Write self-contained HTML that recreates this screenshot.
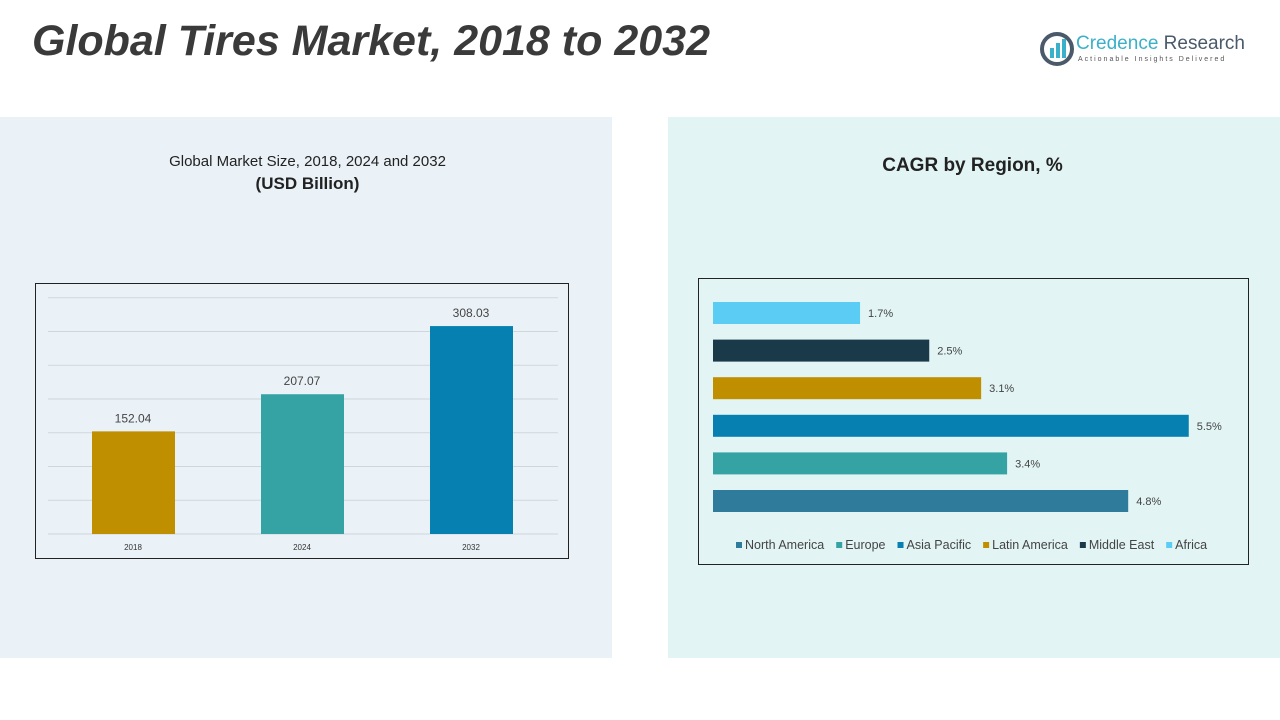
<!DOCTYPE html>
<html><head><meta charset="utf-8"><style>
body{margin:0;width:1280px;height:720px;background:#fff;position:relative;overflow:hidden;font-family:"Liberation Sans",sans-serif}
.abs{position:absolute}
</style></head><body>
<div class="abs" style="left:32px;top:17px;font-size:43px;font-weight:bold;font-style:italic;color:#3a3a3a">Global Tires Market, 2018 to 2032</div>
<div class="abs" style="left:1040px;top:30px;width:210px;height:40px">
 <svg width="34" height="34" style="position:absolute;left:0;top:2px"><circle cx="17" cy="17" r="15" fill="none" stroke="#4a5a6a" stroke-width="4"/><rect x="10" y="16" width="4" height="10" fill="#3bb0c9"/><rect x="16" y="11" width="4" height="15" fill="#3bb0c9"/><rect x="22" y="7" width="4" height="19" fill="#3bb0c9"/></svg>
 <div class="abs" style="left:36px;top:3px;font-size:19px;color:#3bb0c9;white-space:nowrap">Credence <span style="color:#4a5a6a">Research</span></div>
 <div class="abs" style="left:38px;top:26px;font-size:7px;letter-spacing:2px;color:#555;white-space:nowrap">Actionable Insights Delivered</div>
</div>
<div class="abs" style="left:0;top:117px;width:612px;height:541px;background:#eaf2f8"></div>
<div class="abs" style="left:668px;top:117px;width:612px;height:541px;background:#e2f4f4"></div>
<div class="abs" style="left:100px;top:153px;width:415px;text-align:center;font-size:15px;color:#222">Global Market Size, 2018, 2024 and 2032<br><b style="font-size:17px;line-height:28px">(USD Billion)</b></div>
<div class="abs" style="left:820px;top:155px;width:305px;text-align:center;font-size:19px;font-weight:bold;color:#222">CAGR by Region, %</div>
<div class="abs" style="left:35px;top:283px;width:534px;height:276px;border:1px solid #222;box-sizing:border-box"></div>
<div class="abs" style="left:698px;top:278px;width:551px;height:287px;border:1px solid #222;box-sizing:border-box"></div>
<svg class="abs" style="left:0;top:0" width="1280" height="720" id="svg"></svg>
<script>
const years=["2018","2024","2032"];
const sizes=[152.04,207.07,308.03];
const barColors=["#bf8f00","#35a3a3","#0580b0"];
const gridTicks=[0,50,100,150,200,250,300,350];
const regions=["North America","Europe","Asia Pacific","Latin America","Middle East","Africa"];
const cagr=[4.8,3.4,5.5,3.1,2.5,1.7];
const cagrLabels=["4.8%","3.4%","5.5%","3.1%","2.5%","1.7%"];
const regColors=["#2e7b9b","#35a3a3","#0580b0","#bf8f00","#1a3a4a","#5bcdf5"];
const NS="http://www.w3.org/2000/svg",svg=document.getElementById('svg');
function mk(t,a,txt){const e=document.createElementNS(NS,t);for(const k in a)e.setAttribute(k,a[k]);if(txt!=null)e.textContent=txt;svg.appendChild(e);return e;}
const y=v=>534-v*0.675, xc=i=>133+i*169;
gridTicks.forEach(t=>{const g=mk('line',{x1:48,x2:558,y1:y(t),y2:y(t),stroke:'#cfd6dc'});

});
years.forEach((yr,i)=>{
const r=mk('rect',{x:xc(i)-41,y:y(sizes[i]),width:83,height:534-y(sizes[i]),fill:barColors[i]});


const v=mk('text',{x:xc(i),y:y(sizes[i])-9,'text-anchor':'middle','font-size':12,fill:'#444'},sizes[i].toFixed(2));


const l=mk('text',{x:xc(i),y:550,'text-anchor':'middle','font-size':8,fill:'#333'},yr);


});
const bx=v=>713+v*86.5, by=i=>501-i*37.6;
regions.forEach((r,i)=>{
const b=mk('rect',{x:713,y:by(i)-11,width:bx(cagr[i])-713,height:22,fill:regColors[i]});


const t=mk('text',{x:bx(cagr[i])+8,y:by(i)+4,'font-size':11,fill:'#444'},cagrLabels[i]);


});
let lx=736;
regions.forEach((r,i)=>{
const m=mk('rect',{x:lx,y:542,width:6,height:6,fill:regColors[i]});


const t=mk('text',{x:lx+9,y:549,'font-size':12.5,fill:'#444'},r);


lx+=9+t.getComputedTextLength()+12;
});
</script>
</body></html>
